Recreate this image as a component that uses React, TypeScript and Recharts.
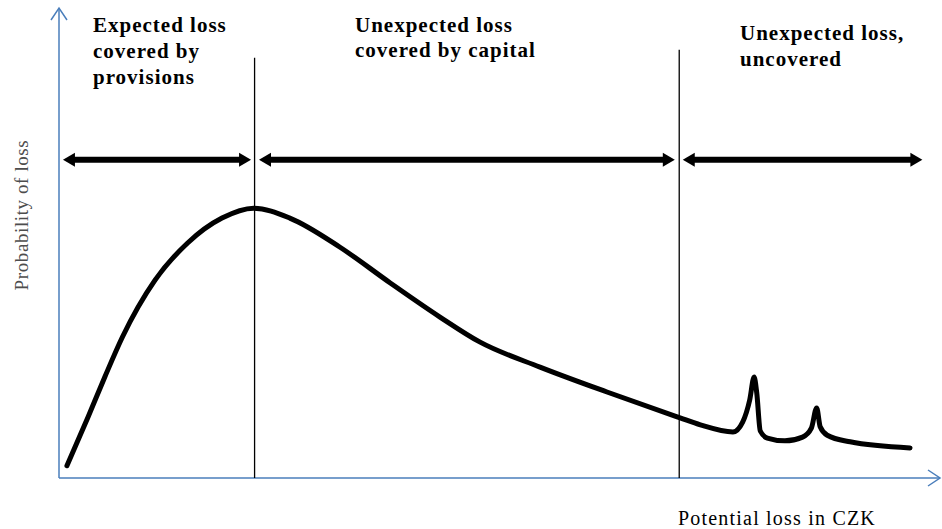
import { ComposedChart, Line, XAxis, YAxis, ReferenceLine } from "recharts";

// loss axis (0-100) and probability (0-100)
const lossX = [0.9, 3.3, 5.2, 7.2, 10.9, 14.6, 18.5, 22.1, 26.2, 31.9, 37.6, 43.2, 47.8, 54.6, 62.2, 70.5, 72.8, 76.5, 77.6, 78.4, 78.9, 79.2, 79.6, 80.4, 82.4, 84.4, 85.4, 86.0, 86.4, 87.2, 89.8, 96.6];
const probY = [2.6, 13.0, 21.5, 30.0, 42.1, 50.0, 55.3, 57.4, 55.3, 49.1, 41.5, 34.3, 28.9, 23.6, 18.3, 12.8, 11.3, 9.8, 11.9, 16.6, 21.5, 18.1, 10.0, 8.5, 7.9, 8.7, 10.6, 14.9, 10.9, 9.1, 7.7, 6.4];

// zone boundaries (expected loss / capital limit) and their heights
const boundaries = [22.2, 70.4];
const boundaryTops = [89.4, 91.1];

// double arrows spanning each zone
const arrowLevel = 67.7;
const arrowFrom = [0.45, 22.7, 70.8];
const arrowTo = [21.8, 69.9, 98.0];

const zoneTitles = [
  ["Expected loss", "covered by", "provisions"],
  ["Unexpected loss", "covered by capital"],
  ["Unexpected loss,", "uncovered"],
];

const data = lossX.map((x, i) => ({ x, y: probY[i] }));

const AXIS_BLUE = "#4a7ebb";

function DoubleArrow(props: any) {
  const { x1, y1, x2 } = props;
  const h = 12;
  const w = 7;
  return (
    <g>
      <line x1={x1 + h - 1} y1={y1} x2={x2 - h + 1} y2={y1} stroke="#000" strokeWidth={6} />
      <polygon points={`${x1},${y1} ${x1 + h},${y1 - w} ${x1 + h},${y1 + w}`} fill="#000" />
      <polygon points={`${x2},${y1} ${x2 - h},${y1 - w} ${x2 - h},${y1 + w}`} fill="#000" />
    </g>
  );
}

function AxisArrow(props: any) {
  const { x1, y1, x2, y2 } = props;
  const horiz = Math.abs(y2 - y1) < 1;
  const head = horiz
    ? `${x2 - 12},${y2 - 8} ${x2},${y2} ${x2 - 12},${y2 + 8}`
    : `${x2 - 8},${y2 + 12} ${x2},${y2} ${x2 + 8},${y2 + 12}`;
  return (
    <g>
      <line x1={x1} y1={y1} x2={x2} y2={y2} stroke={AXIS_BLUE} strokeWidth={1.5} />
      <polyline points={head} fill="none" stroke={AXIS_BLUE} strokeWidth={1.5} />
    </g>
  );
}

export default function App() {
  const serif = "'Liberation Serif', 'Times New Roman', serif";
  const titleX = [93, 355, 740];
  const titleY = [32, 32, 40];
  const lineGap = [26, 25, 26];
  return (
    <div style={{ position: "absolute", left: 0, top: 0, width: 942, height: 529, background: "#fff" }}>
      <ComposedChart width={942} height={529} data={data} margin={{ top: 8, left: 59, right: 2, bottom: 51 }}>
        <XAxis type="number" dataKey="x" domain={[0, 100]} hide />
        <YAxis type="number" domain={[0, 100]} hide />
        <ReferenceLine segment={[{ x: 0, y: 0 }, { x: 100, y: 0 }]} shape={AxisArrow} />
        <ReferenceLine segment={[{ x: 0, y: 0 }, { x: 0, y: 100 }]} shape={AxisArrow} />
        {boundaries.map((b, i) => (
          <ReferenceLine key={"b" + i} segment={[{ x: b, y: 0 }, { x: b, y: boundaryTops[i] }]} stroke="#000" strokeWidth={1.3} />
        ))}
        {arrowFrom.map((f, i) => (
          <ReferenceLine key={"a" + i} segment={[{ x: f, y: arrowLevel }, { x: arrowTo[i], y: arrowLevel }]} shape={DoubleArrow} />
        ))}
        <Line type="monotone" dataKey="y" stroke="#000" strokeWidth={5} strokeLinecap="round" strokeLinejoin="round" dot={false} isAnimationActive={false} />
      </ComposedChart>
      <svg width={942} height={529} style={{ position: "absolute", left: 0, top: 0, pointerEvents: "none" }}>
        {zoneTitles.map((lines, i) =>
          lines.map((t, j) => (
            <text key={i + "-" + j} x={titleX[i]} y={titleY[i] + j * lineGap[i]} fontFamily={serif} fontWeight="bold" fontSize={21} letterSpacing={1} fill="#000">
              {t}
            </text>
          ))
        )}
        <text x={28} y={215} transform="rotate(-90 28 215)" textAnchor="middle" fontFamily={serif} fontSize={19} letterSpacing={0.6} fill="#4d4d4d">
          Probability of loss
        </text>
        <text x={678} y={525} fontFamily={serif} fontSize={20} letterSpacing={1.2} fill="#000">
          Potential loss in CZK
        </text>
      </svg>
    </div>
  );
}
